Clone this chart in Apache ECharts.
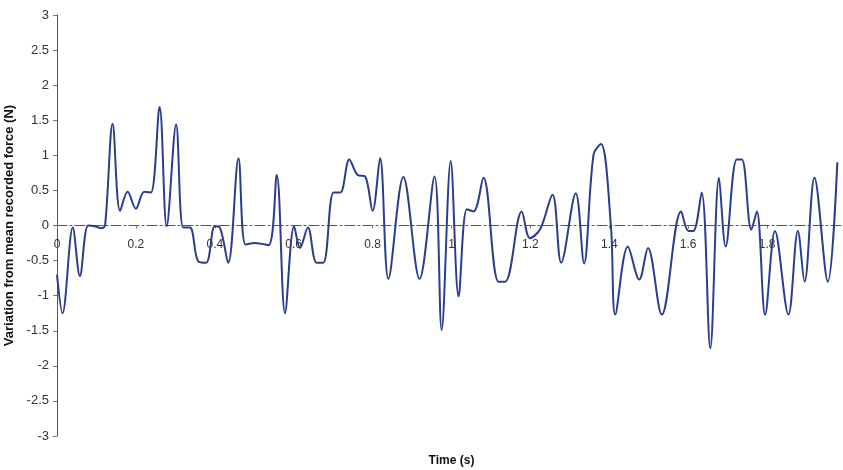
<!DOCTYPE html>
<html>
<head>
<meta charset="utf-8">
<script src="https://cdn.jsdelivr.net/npm/echarts@6/dist/echarts.min.js"></script>
<style>
html,body{margin:0;padding:0;background:#fff;}
#chart{width:843px;height:470px;}
</style>
</head>
<body>
<div id="chart"></div>
<script>
// Time (s)
var times = [0.000,0.014,0.040,0.058,0.079,0.095,0.113,0.122,0.141,0.160,0.179,0.200,0.221,0.238,0.260,0.278,0.302,0.320,0.337,0.358,0.378,0.400,0.413,0.434,0.460,0.478,0.502,0.536,0.557,0.578,0.601,0.616,0.636,0.658,0.675,0.701,0.718,0.741,0.762,0.781,0.800,0.819,0.840,0.878,0.919,0.957,0.975,0.998,1.018,1.039,1.056,1.081,1.119,1.136,1.178,1.199,1.225,1.256,1.278,1.315,1.336,1.360,1.379,1.404,1.415,1.447,1.476,1.498,1.533,1.582,1.601,1.613,1.634,1.656,1.678,1.695,1.723,1.736,1.760,1.774,1.795,1.820,1.854,1.878,1.895,1.920,1.954,1.978];
// Variation from mean recorded force (N)
var forces = [-0.70,-1.25,-0.03,-0.72,0.00,-0.01,-0.04,0.01,1.45,0.21,0.48,0.24,0.48,0.47,1.69,-0.01,1.44,-0.03,-0.03,-0.51,-0.53,-0.01,-0.03,-0.53,0.96,-0.27,-0.25,-0.28,0.72,-1.25,-0.01,-0.32,-0.03,-0.53,-0.53,0.47,0.47,0.94,0.72,0.70,0.21,0.96,-0.76,0.69,-0.76,0.70,-1.49,0.92,-1.01,0.23,0.20,0.68,-0.80,-0.80,0.20,-0.18,-0.05,0.44,-0.53,0.46,-0.54,1.01,1.16,0.00,-1.27,-0.30,-0.77,-0.32,-1.27,0.20,-0.08,-0.08,0.47,-1.75,0.68,-0.30,0.94,0.94,-0.06,0.20,-1.27,-0.08,-1.27,-0.08,-0.80,0.68,-0.80,0.90];
// Axis ticks
var xTicks = [0,0.2,0.4,0.6,0.8,1,1.2,1.4,1.6,1.8,2];
var yTicks = [-3,-2.5,-2,-1.5,-1,-0.5,0,0.5,1,1.5,2,2.5,3];

var GRID_TOP = 15, GRID_H = 421;
var yMin = yTicks[0], yMax = yTicks[yTicks.length-1];
// shift the x axis up so it sits on the zero line of the y scale
var zeroOffset = -GRID_H * (0 - yMin) / (yMax - yMin);

var pts = times.map(function(t,i){return [t, forces[i]];});
var chart = echarts.init(document.getElementById('chart'), null, {renderer:'canvas'});
chart.setOption({
  backgroundColor:'#ffffff',
  animation:false,
  grid:{left:57, top:GRID_TOP, width:789, height:GRID_H, containLabel:false, outerBoundsMode:'none'},
  xAxis:{
    type:'value', min:xTicks[0], max:xTicks[xTicks.length-1], interval:0.2,
    position:'bottom', offset:zeroOffset,
    name:'Time (s)', nameLocation:'middle', nameGap:229,
    nameTextStyle:{fontFamily:'Liberation Sans, Arial', fontWeight:'bold', fontSize:12, color:'#111'},
    axisLine:{onZero:false, lineStyle:{color:'#555', width:1, type:[10,3,2,3]}},
    axisTick:{show:true, length:3, inside:false, lineStyle:{color:'#777'}},
    axisLabel:{margin:13, fontFamily:'Liberation Sans, Arial', fontSize:12, color:'#333',
      formatter:function(v){return String(Math.round(v*10)/10);}},
    splitLine:{show:false}
  },
  yAxis:{
    type:'value', min:yMin, max:yMax, interval:0.5,
    name:'Variation from mean recorded force (N)', nameLocation:'middle', nameGap:35, nameRotate:90,
    nameTextStyle:{fontFamily:'Liberation Sans, Arial', fontWeight:'bold', fontSize:13, color:'#111'},
    axisLine:{show:true, onZero:false, lineStyle:{color:'#555', width:1}},
    axisTick:{show:true, length:4, lineStyle:{color:'#777'}},
    axisLabel:{margin:8, fontFamily:'Liberation Sans, Arial', fontSize:13, color:'#333',
      formatter:function(v){return String(v);}},
    splitLine:{show:false}
  },
  series:[{
    type:'line', data:pts, smooth:0.35, showSymbol:false,
    lineStyle:{color:'#2c3d8f', width:2}
  }]
});
</script>
</body>
</html>
